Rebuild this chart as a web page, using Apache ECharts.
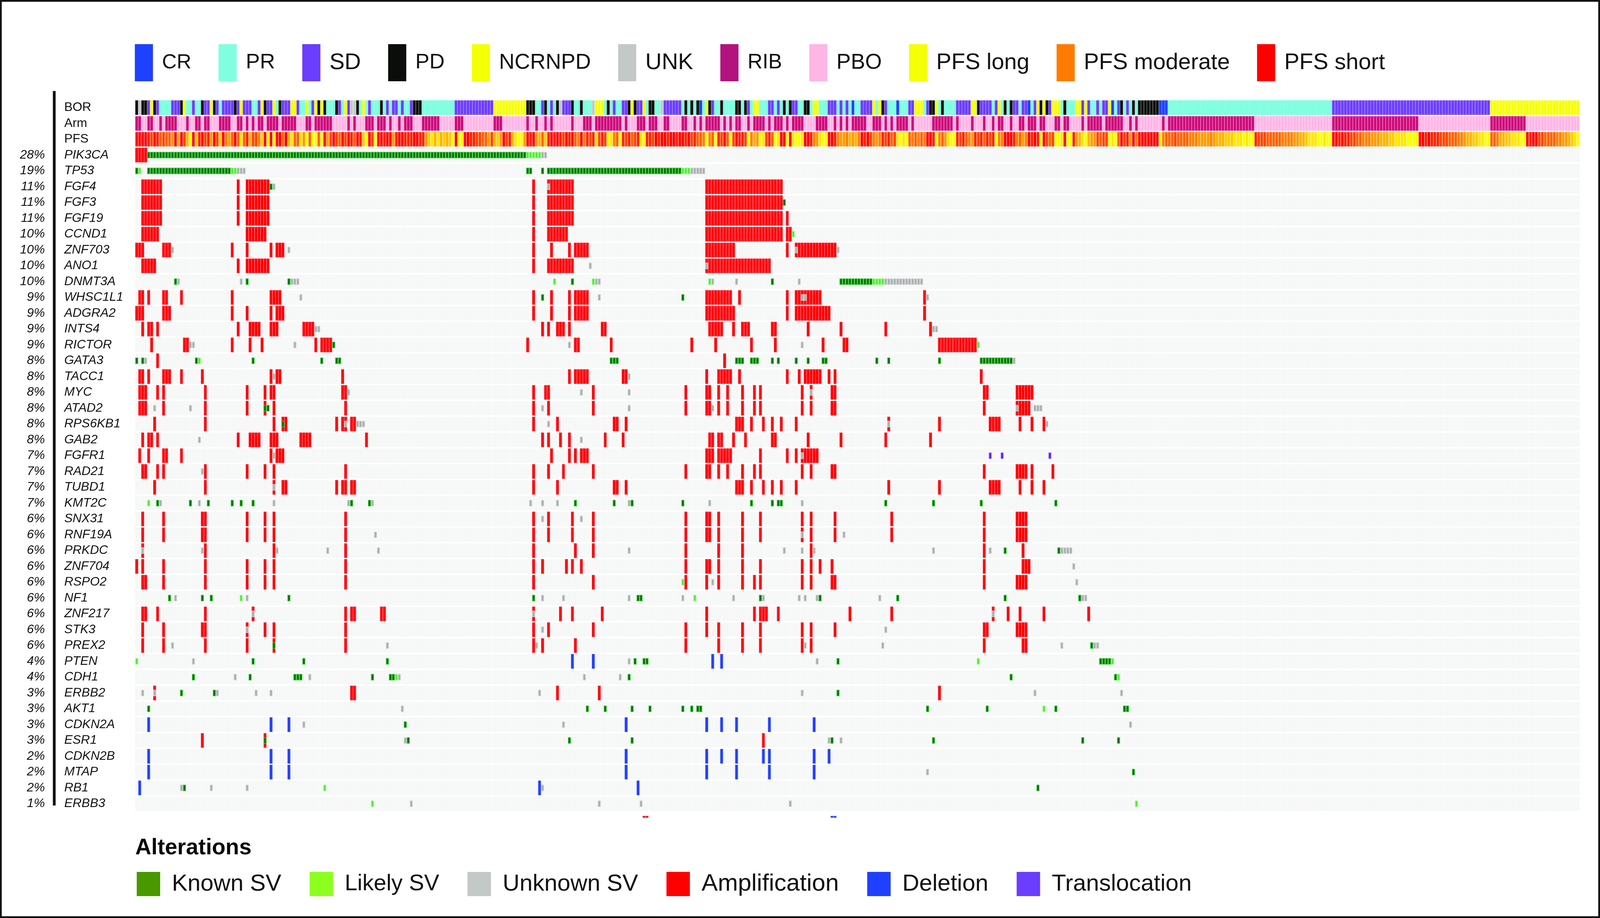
<!DOCTYPE html>
<html><head><meta charset="utf-8">
<style>html,body{margin:0;padding:0;background:#fff;overflow:hidden}#c{width:100vw;height:100vh}</style>
<script src="https://cdn.jsdelivr.net/npm/echarts@6/dist/echarts.min.js"></script>
</head><body><div id="c"></div>
<script>
const sampleCount = 484;
const annotationRows = ['BOR','Arm','PFS'];
const genes = ['PIK3CA','TP53','FGF4','FGF3','FGF19','CCND1','ZNF703','ANO1','DNMT3A','WHSC1L1','ADGRA2','INTS4','RICTOR','GATA3','TACC1','MYC','ATAD2','RPS6KB1','GAB2','FGFR1','RAD21','TUBD1','KMT2C','SNX31','RNF19A','PRKDC','ZNF704','RSPO2','NF1','ZNF217','STK3','PREX2','PTEN','CDH1','ERBB2','AKT1','CDKN2A','ESR1','CDKN2B','MTAP','RB1','ERBB3'];
const percents = [28,19,11,11,11,10,10,10,10,9,9,9,9,8,8,8,8,8,8,7,7,7,7,6,6,6,6,6,6,6,6,6,4,4,3,3,3,3,2,2,2,1];
const topLegend = ['CR','PR','SD','PD','NCRNPD','UNK','RIB','PBO','PFS long','PFS moderate','PFS short'];
const bottomLegend = ['Known SV','Likely SV','Unknown SV','Amplification','Deletion','Translocation'];

// Best overall response, runs of samples: C=CR P=PR S=SD D=PD N=NCRNPD U=UNK
const bor = 'D0 U1 D2-3 S4 N5 D6 S7 P8-11 S12-14 D15 N16 P17-18 S19 P20-21 D22 S23-24 N25 D26 S27 P28 S29-32 D33 S34 N35 S36-38 P39-40 S41 N42 D43 S44-45 N46 P47 D48 S49-51 N52-53 S54 P55-56 N57 P58 S59 N60 D61 N62 D63 P64-66 D67 S68 P69 N70 S71 U72-73 D74 P75 N76 P77 S78 P79-81 D82 P83 S84 P85 S86-87 P88 S89 P90-91 S92 D93-95 P96-106 S107-119 N120-130 D131-133 P134-135 S136 D137 P138 S139 P140 D141 U142 S143-145 D146 P147-148 D149 P150-152 U153 N154-156 P157 D158 P159 S160 P161-162 S163-164 D165 N166 D167 S168-169 N170 P171 D172-173 P174-175 U176 S177-182 P183 D184 P185 D186 P187 D188 C189 P190 N191 D192 S193 P194-195 D196 P197-200 D201-202 P203 D204 S205 P206 N207-208 P209-211 S212-213 P214 S215 P216 D217 P218 D219 S220-221 P222-223 D224-225 P226 N227-228 P229-231 S232-234 P235 S236 P237 S238 P239 C240 P241-242 S243-246 N247 P248 N249 D250 S251 P252-254 C255 P256-258 S259-260 N261-263 P264 S265 D266-267 N268 P269 D270 P271-274 S275-279 N280-281 D282 S283-286 P287 S288 N289 P290 D291 P292 D293 S294-295 P296 S297-298 C299 P300 S301 N302 D303 N304 D305 S306 N307-309 P310 D311 P312-314 N315-316 S317 N318 S319 P320-321 S322 P323 S324-325 N326 C327 P328 S329 D330 P331 S332 P333 D334 P335 D336-342 C343-345 P346-400 S401-453 N454-483';

// Samples on the RIB arm; all others are PBO
const ribRuns = 'R0-1 R4-5 R8 R10-13 R17 R20-21 R23-24 R28-31 R34-35 R37 R39 R41-42 R44-47 R49-53 R57-58 R60-65 R71 R73 R77-79 R81-83 R85 R88 R90-92 R96-101 R107-109 R120-122 R131 R134 R137 R139 R146 R150-152 R154-162 R164 R168-170 R172-174 R177-178 R183-184 R187 R189 R191-195 R197 R199 R201-202 R205 R207-210 R212 R214-216 R218 R220-223 R228-231 R234 R236 R238 R240-244 R247-249 R251 R253 R255-258 R260 R267-273 R275 R280 R284 R287 R289-290 R293 R296-297 R299-301 R303-304 R308-309 R311-312 R317 R319-323 R325-330 R333 R335 R344 R346-374 R401-429 R454-465';

// PFS level per sample, 0 = shortest (red) to 9 = longest (yellow)
const pfsLevels = [
 '0000120132','3350602690','7102150270','4530383162','2470909003','0683385939','93',
 '9052023020','1301790290','0100510011','1001157868','67679099','0011223352','675021689950',
 '10','5637','101012010','34','0','4','121','8','212','98','43','9','121321','89','11201','001001001021334',
 '9','43','9','1203','9','20112','9','465','98','213','98','00','9','0','8998','001','45','899','001','45546564',
 '0102','454','12132','8989','343434','001','9','435','899','1213','45','1213121','9','44','0001','4354','0101','9','0','232','99',
 '8','0','99','1','56','89','655','2322','989','3','0','21','5','0','4','0000000','9','43',
 '3323333','44455554566677','78889899','12223','333344445566','788899899',
 '001011','223344455566677','88889999','001011122233','3445','66778899','334','667788899','0100','22333344556','789'
].join('');
const pfsShades = ['#ff0000','#ff2400','#ff4600','#ff6400','#ff8200','#ff9c00','#ffb400','#ffcc00','#ffe600','#f6ff00'];

// Alterations per gene, runs of samples: A=Amplification D=Deletion K=Known SV L=Likely SV U=Unknown SV T=Translocation
const PIK3CA='A0-3 K4-130 L131-135 U136-137';
const TP53='K0 L1 K4-31 L32-33 U34-36 K131-132 K136 K138-182 L183-185 U186-190';
const FGF4='A2-8 A34 A37-44 K45 U46 A133 A138-146 U138 A191-216';
const FGF3='A2-8 A34 A37-44 A133 A138-146 A191-216 K217';
const FGF19='A2-8 A34 A37-44 A133 A138-146 A191-216 A218';
const CCND1='A2-7 A37-43 A133 A138-144 A191-216 A218-219 L220';
const ZNF703='A0-2 A9-11 U12 A32 A37 A45 A47-49 U51 A133 A139 A145 A147-151 A191-200 A218 A221-234 U221 U235';
const ANO1='A2-6 A34 A37-44 A133 A138-146 U152 A191-212 U191';
const DNMT3A='K13 U14 U35 K37 K51 U52-54 L140 K146 L153 U154-155 L192 U193 U201 K213 U222 K236-246 L247-250 U251-263';
const WHSC1L1='A1-2 A4 A9-10 A15 A32 A45 A46-48 U55 A133 K136 A139 A145 A147-151 U155 K183 A191-199 A202 A218 A221-229 U223-224 A264 U265';
const ADGRA2='A0-2 A9-11 A32 A37 A45 A47-49 A133 A139 A145 A147-151 A191-200 A218 A221-232 A264';
const INTS4='A2 A4-5 A7 A34 A38-41 A45-46 A47 A56-59 U60-61 A136 A138 A141-143 A145 A156-157 A192-196 A200 A203-205 A213-214 A225 A236 A251 A266 U267-268';
const RICTOR='A5 A16-17 U18-19 A32 A38 A42 U53 A60 A62-65 K66 A131 U145 A147-148 A159 A186 A194 A206 A214 U223 A230 A237-238 A269-281 L282';
const GATA3='K0 K2 U3 A7 K20 L21 K39 K62 K67 K68 K159-161 A197 K201-203 K206-208 K213 K215 K221 K225 K230-231 K248 K252 K269 K283-293 U294';
const TACC1='A1-2 A4 A9-11 A15 A22 A45 U46 A47-48 A69 A145 A147-151 A163-164 U165 A191 A195-199 A202 A218 A222 A224-229 A232 A234 A283';
const MYC='A1-3 A7 A9 A23 A37 A43 A45-46 A69-70 U71 A133 A137-138 U149 A153 U165 A184 A191-192 A195 A198 A203 A207 A209 A223 A226 U226 A233-234 A284-285 A295-300';
const ATAD2='A1-3 U6 A9 U18 A23 A37 A43 K43-44 A46 A70 A133 U136 A138 A153 U165 A184 A191-192 U193 A195 A198 A203 A207 A209 A223 A226 A233-234 A284 A295-299 U295 U301-303';
const RPS6KB1='A6 A23 A46 A49-50 K49 A67 A69-70 U70 A72-73 U74-76 A133 U138 A141 A160-161 A164 A201-203 A206 A210 A213 A216 A221 A252 U252 A269 A286-289 A296 A300 A304 U305';
const GAB2='A2 A4-5 A7 U21 A34 A38-41 A45-46 A47 A55-58 A77 A136 A138 A142 A145 U149 A157 A163 A192-193 A195-196 A200 A204 A213-214 A225 A236 A251 A266';
const FGFR1='A1 A4 A9-10 A15 A45 U46 A47-49 A139 A145 A147 A149-151 A191-193 A195-199 A209 A218 A221 A223-228 U223 T286 T290 T306';
const RAD21='A2-3 A7 A9 U22 A23 A37 A43 A46 A70 A133 A138 A143 A153 A184 A191-192 A195 A198 A203 A207 A209 A223 A226 A233-234 A284 A295-298 A300 A307';
const TUBD1='A6 A23 A46 U46 A49-50 A67 A69-70 A72-73 A133 A141 A160-161 A164 A201-203 A206 A210 A213 A216 A221 A252 A269 A286-289 A296 A300 A304';
const KMT2C='L4 K7 U8 K18 U21 K24 K32 K35 K39 U46 U71 K72 K78 U79 U132 U136 U141 K147 K160 U165 K166 K183 U192 K206 K213 K215-216 U223 K251 K267 K283 K308';
const SNX31='A2 A9 A22-23 A37 A43 A46 A70 A133 U136 A138 A146 U149 A153 A184 A191-192 A195 A203 A209 A223 A226 A234 A253 A284 A295-298';
const RNF19A='A2 A9 A22-23 A37 A43 A46 A70 U80 A133 A138 A146 A153 A184 A191-192 A195 A203 A209 A223 U223 A226 A234 U237 A253 A284 A295-298';
const PRKDC='A2 U2 U22 A23 A46 U47 U64 A70 U81 A133 A147 A153 U165 A184 A195 A203 U217 U223 A226 U227 U267 A284 U286 K291 A297 K309 U310-313';
const ZNF704='A0 A2 A9 A23 A37 A43 A46 A70 A133 A136 A144 A146 A149 A184 A191-192 A195 A203 A209 A223 A226 A229 A233 A284 A297-299 U314';
const RSPO2='A2-3 A9 A23 A37 A43 A46 A70 A133 A153 L183 A184 A191 U193 A195 A203 A207 A209 A223 A226 A233-234 A284 A295-298 U315';
const NF1='K11 U13 K22 K25 L35 U37 K51 K133 U136 U143 U165 K168-169 U183 L187 U200 K209 U210 U222 U224 U228 K229 U249 K255 K291 K316 U317-318';
const ZNF217='A2-3 A7 A23 A39 U39 A70 A72-73 A82-83 A133 U133 A142 A146 A156 A191 A207 A209-211 A215 A239 A253 A287 U287 A292 A296 A304 A319';
const STK3='A2 A9 A22-23 A37 U37 A43 A46 A70 A133 U136 A138 A153 A184 A191 A195 A203 A209 A223 A226 A234 U251 A284-285 A295-298';
const PREX2='A2 A9 U12 A23 A37 A46 K46 A70 U84 A133 U134 A136 A147 A184 A195 A203 A209 A223 U224 A226 U250 A284 A297-298 U310 K320 U321-322';
const PTEN='L0 U19 K39 K56 K84 D146 D153 U165 K167 K170-171 D193 D196 U228 K235 L282 K323-326 L327';
const CDH1='K19 U33 K38 K53-54 K55 U58 K79 K85-86 L87 U88 U150 U162 K165 K293 K328 L329';
const ERBB2='U2 A6 U6 K15 K26 U27 U40 U45 A72-73 U135 A141 A155 U223 K235 A269 U301 U330';
const AKT1='K4 U89 K151 K157 K166 K172 K183 K186 K188-189 K265 K285 L304 K308 K331-332';
const CDKN2A='D4 D45 D51 U56 K90 U143 D164 D191 D196 D201 D212 D227 U333';
const ESR1='A22 A43 K43 U90 K91 K145 K166 A210 U232 K233 U236 K267 K317 K329';
const CDKN2B='D4 D45 D51 D164 D191 D196 D201 D210 D212 D227 D232';
const MTAP='D4 D45 D51 D164 D191 D201 D212 D227 U265 K334';
const RB1='D1 U15 K16 U25 U37 L63 D135 U136 D168 K302';
const ERBB3='L79 U92 U155 U169 U219 L335';
// Clipped sliver of marks printed under the last row of the reference
const strayRow='A170-171 D233-234';

const geneRuns=[PIK3CA,TP53,FGF4,FGF3,FGF19,CCND1,ZNF703,ANO1,DNMT3A,WHSC1L1,ADGRA2,INTS4,RICTOR,GATA3,TACC1,MYC,ATAD2,RPS6KB1,GAB2,FGFR1,RAD21,TUBD1,KMT2C,SNX31,RNF19A,PRKDC,ZNF704,RSPO2,NF1,ZNF217,STK3,PREX2,PTEN,CDH1,ERBB2,AKT1,CDKN2A,ESR1,CDKN2B,MTAP,RB1,ERBB3];

const rowNames=annotationRows.concat(genes,['']);
const pctLabels=['','',''].concat(percents.map(p=>p+'%'),['']);
const STRAY=rowNames.length-1;

function expand(runs,cb){
  runs.split(' ').forEach(t=>{
    const m=/([A-Z])(\d+)(?:-(\d+))?/.exec(t);
    const a=+m[2], b=m[3]?+m[3]:a;
    for(let i=a;i<=b;i++) cb(m[1],i);
  });
}
const style={
 'CR':{c:'#2040ff',e:'#4a66ff'},'PR':{c:'#80ffe0',e:'#80ffe0'},'SD':{c:'#6a3dff',e:'#9a70ff'},'PD':{c:'#0a0d0a',e:'#505050'},
 'NCRNPD':{c:'#f5ff05',e:'#fbff60'},'UNK':{c:'#c2c9c7',e:'#dfe3e2'},'RIB':{c:'#b3127f',e:'#b3127f',f:'#cc0a78',s:'#e85ab0'},'PBO':{c:'#ffb5e6',e:'#ffcdef'},
 'PFS long':{c:'#f5ff05',e:null},'PFS moderate':{c:'#ff7a00',e:null},'PFS short':{c:'#ff0000',e:null},
 'Known SV':{c:'#4a9800',f:'#0c6c00',s:'#38d03c',mid:1},'Likely SV':{c:'#8cff1f',f:'#4cee2c',s:'#a0ff90',mid:1},'Unknown SV':{c:'#c2c9c7',f:'#a8aeae',s:'#d4d8d8',mid:1},
 'Amplification':{c:'#ff0000',e:'#ff5060'},'Deletion':{c:'#2040ff',e:'#5a70ff'},'Translocation':{c:'#6a3dff',f:'#5a20e0',s:'#a080ff',mid:1}
};
const buckets={};Object.keys(style).forEach(k=>buckets[k]=[]);
const borName={C:'CR',P:'PR',S:'SD',D:'PD',N:'NCRNPD',U:'UNK'};
expand(bor,(k,i)=>buckets[borName[k]].push([i,0,-1]));
const rib=new Set();expand(ribRuns,(k,i)=>rib.add(i));
for(let i=0;i<sampleCount;i++) buckets[rib.has(i)?'RIB':'PBO'].push([i,1,-1]);
for(let i=0;i<sampleCount;i++){
  const lv=+pfsLevels[i];
  buckets[lv>=7?'PFS long':lv>=3?'PFS moderate':'PFS short'].push([i,2,lv]);
}
const altName={A:'Amplification',D:'Deletion',K:'Known SV',L:'Likely SV',U:'Unknown SV',T:'Translocation'};
geneRuns.forEach((r,g)=>expand(r,(k,i)=>buckets[altName[k]].push([i,g+3,-1])));
expand(strayRow,(k,i)=>buckets[altName[k]].push([i,STRAY,-1]));

const backgroundCells=[];
genes.forEach((g,j)=>{for(let i=0;i<sampleCount;i++)backgroundCells.push([i,j+3]);});

function makeRender(name){
  const st=style[name];
  return function(params,api){
    const x=api.value(0),row=api.value(1),lv=api.value(2);
    const p=api.coord([x,row]),sz=api.size([1,1]);
    const w=sz[0],rh=sz[1];
    let h=rh*0.91,y=p[1]-h/2;
    if(st.mid){h=rh*0.37;y=p[1]-h/2;}
    if(row===STRAY){h=4;y=p[1]-9;}
    const fill=lv>=0?pfsShades[lv]:(st.f||st.c);
    const stroke=lv>=0?null:(st.s||st.e||null);
    const lw=st.mid?1.6:1;
    return {type:'rect',shape:{x:p[0]+lw/2,y:y,width:w-lw,height:h},
      style:{fill:fill,stroke:stroke,lineWidth:stroke?lw:0}};
  };
}
const series=[{
  name:'cells',type:'custom',silent:true,progressive:0,animation:false,
  renderItem:function(params,api){
    const p=api.coord([api.value(0),api.value(1)]),sz=api.size([1,1]);
    const h=sz[1]*0.91;
    return {type:'rect',shape:{x:p[0],y:p[1]-h/2,width:sz[0],height:h},
      style:{fill:'#f6f7f7',stroke:'#fbfbfb',lineWidth:1}};
  },
  encode:{x:0,y:1},data:backgroundCells
}];
const order=topLegend.concat(['Amplification','Deletion','Unknown SV','Likely SV','Known SV','Translocation']);
order.forEach(n=>series.push({
  name:n,type:'custom',progressive:0,animation:false,silent:true,
  itemStyle:{color:style[n].c},
  renderItem:makeRender(n),encode:{x:0,y:1},data:buckets[n]
}));

// The browser window may be narrower than the reference: fit the layout to its width
const W=window.innerWidth,H=window.innerHeight,sx=W/4236;
const FONT='"Liberation Sans"';
const gridLeft=358*sx;
const topFonts={CR:52,PR:54,SD:58,PD:54,NCRNPD:55,UNK:58,RIB:53,PBO:55,'PFS long':58,'PFS moderate':58,'PFS short':58};
const bottomFonts={'Known SV':60,'Likely SV':58,'Unknown SV':60,'Amplification':62,'Deletion':60,'Translocation':60};
const option={
  animation:false,
  backgroundColor:'#fff',
  title:{text:'Alterations',left:358*sx,top:2143,padding:0,textStyle:{fontFamily:FONT,fontSize:57,fontWeight:'bold',color:'#0a0a0a'}},
  grid:{left:gridLeft,top:255.25,width:3824*sx,height:40.5*rowNames.length,containLabel:false},
  xAxis:{type:'value',min:0,max:sampleCount,show:false},
  yAxis:[
   {type:'category',inverse:true,data:rowNames,axisLine:{show:false},axisTick:{show:false},splitLine:{show:false},
    axisLabel:{interval:0,align:'left',margin:gridLeft-170*sx,
      formatter:v=>annotationRows.includes(v)?'{n|'+v+'}':(v?'{i|'+v+'}':''),
      rich:{n:{fontFamily:FONT,fontSize:32,color:'#111'},i:{fontFamily:FONT,fontSize:32,fontStyle:'italic',color:'#111'}}}},
   {type:'category',inverse:true,position:'left',data:pctLabels,axisLine:{show:false},axisTick:{show:false},splitLine:{show:false},
    axisLabel:{interval:0,margin:gridLeft-119*sx,fontFamily:FONT,fontSize:32,fontStyle:'italic',color:'#111'}}
  ],
  legend:[
   {left:357*sx,top:113,padding:0,itemWidth:48*sx,itemHeight:95,itemGap:72*sx,selectedMode:false,icon:'rect',
    itemStyle:{borderWidth:0},
    textStyle:{fontFamily:FONT,fontSize:56,color:'#111',padding:[0,0,0,24*sx-5]},
    data:topLegend.map(n=>({name:n,textStyle:{fontFamily:FONT,fontSize:topFonts[n],color:'#111',padding:[0,0,0,24*sx-5]}}))},
   {left:362*sx,top:2232,padding:0,itemWidth:62*sx,itemHeight:62,itemGap:75*sx,selectedMode:false,icon:'rect',
    itemStyle:{borderWidth:0},
    textStyle:{fontFamily:FONT,fontSize:60,color:'#111',padding:[0,0,0,31*sx-5]},
    data:bottomLegend.map(n=>({name:n,textStyle:{fontFamily:FONT,fontSize:bottomFonts[n],color:'#111',padding:[0,0,0,31*sx-5]}}))}
  ],
  graphic:[
   {type:'rect',silent:true,shape:{x:0,y:0,width:W,height:H},style:{fill:'none',stroke:'#111',lineWidth:9}},
   {type:'rect',silent:true,shape:{x:140*sx,y:233,width:7,height:1829},style:{fill:'#0a0a0a'}}
  ],
  series:series
};
const chart=echarts.init(document.getElementById('c'),null,{renderer:'canvas',width:W,height:H,devicePixelRatio:1});
chart.setOption(option);
</script></body></html>
